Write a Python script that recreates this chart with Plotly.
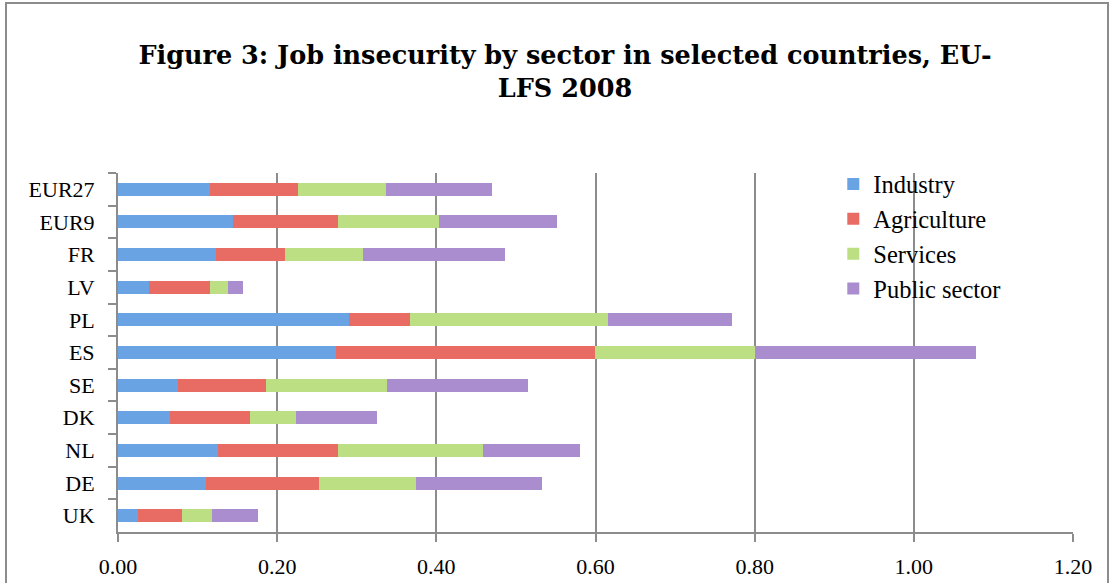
import plotly.graph_objects as go

countries = ["EUR27", "EUR9", "FR", "LV", "PL", "ES", "SE", "DK", "NL", "DE", "UK"]
industry = [0.115, 0.144, 0.123, 0.039, 0.290, 0.274, 0.075, 0.065, 0.126, 0.111, 0.025]
agriculture = [0.111, 0.132, 0.087, 0.076, 0.077, 0.325, 0.111, 0.101, 0.150, 0.142, 0.056]
services = [0.111, 0.127, 0.098, 0.023, 0.249, 0.202, 0.152, 0.058, 0.183, 0.122, 0.037]
public_sector = [0.133, 0.148, 0.178, 0.019, 0.155, 0.277, 0.177, 0.102, 0.122, 0.158, 0.058]

series = [
    ("Industry", industry, "#69A3E3"),
    ("Agriculture", agriculture, "#E86B64"),
    ("Services", services, "#BCDF83"),
    ("Public sector", public_sector, "#A98DCE"),
]

FONT = "Liberation Serif"

fig = go.Figure()
for name, vals, col in series:
    fig.add_trace(go.Bar(
        y=countries, x=vals, name=name, orientation="h",
        marker=dict(color=col, line=dict(width=0)),
    ))

fig.update_layout(
    barmode="stack",
    bargap=0.6,
    width=1110, height=583,
    margin=dict(l=118, r=37, t=173, b=51, autoexpand=False),
    paper_bgcolor="white",
    plot_bgcolor="white",
    font=dict(family=FONT, size=22, color="black"),
    title=dict(
        text="<b>Figure 3: Job insecurity by sector in selected countries, EU-<br>LFS 2008</b>",
        x=0.509, xanchor="center", y=0.891, yanchor="middle",
        font=dict(family="DejaVu Serif", size=25.5, color="black"),
    ),
    legend=dict(
        x=0.749, y=1.032, xanchor="left", yanchor="top",
        font=dict(family=FONT, size=24.5),
        traceorder="normal",
        bgcolor="rgba(0,0,0,0)",
        itemwidth=30,
    ),
    xaxis=dict(
        range=[0, 1.2], dtick=0.2, tickformat=".2f",
        showgrid=True, gridcolor="#8c8c8c", gridwidth=2,
        showline=True, linecolor="#8c8c8c", linewidth=2,
        ticks="outside", ticklen=8, tickcolor="#8c8c8c", tickwidth=2,
        ticklabelstandoff=6,
        zeroline=False, automargin=False,
        tickfont=dict(family=FONT, size=22),
    ),
    yaxis=dict(
        autorange="reversed",
        showline=True, linecolor="#8c8c8c", linewidth=2,
        ticks="outside", ticklen=8, tickcolor="#8c8c8c", tickwidth=2,
        tickson="boundaries",
        ticklabelstandoff=17,
        showgrid=False, automargin=False,
        tickfont=dict(family=FONT, size=22),
    ),
    shapes=[dict(
        type="rect", xref="paper", yref="paper",
        x0=(6 - 118) / 955, x1=(1108 - 118) / 955,
        y0=(532 - 640) / 359, y1=(532 - 3) / 359,
        line=dict(color="#8c8c8c", width=2), fillcolor="rgba(0,0,0,0)",
        layer="below",
    )],
)

fig.write_html("out.html")
